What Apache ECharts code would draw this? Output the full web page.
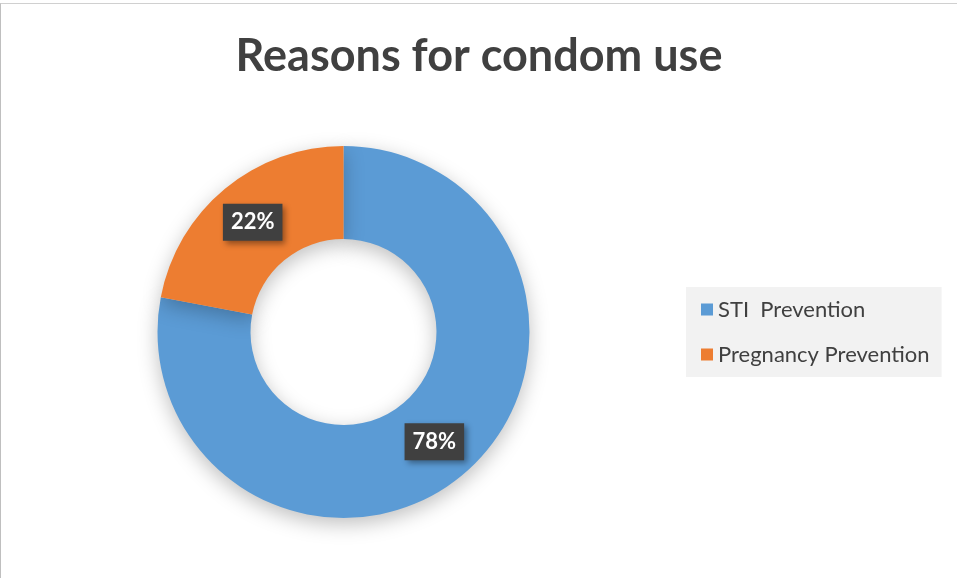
<!DOCTYPE html>
<html><head><meta charset="utf-8">
<script src="https://cdn.jsdelivr.net/npm/echarts@6/dist/echarts.min.js"></script>
<style>html,body{margin:0;padding:0;background:#fff}#c{width:958px;height:578px;position:relative}
#frame{position:absolute;left:0;top:3px;width:956px;height:575px;border-top:1px solid #d0d0d0;border-left:1px solid #bfbfbf;pointer-events:none}</style>
</head><body><div id="c"></div>
<script>
const categories = ['STI  Prevention', 'Pregnancy Prevention'];
const values = [78, 22];
const colors = ['#5b9bd5', '#ed7d31'];
const chart = echarts.init(document.getElementById('c'));
chart.setOption({
  backgroundColor: '#fff',
  title: { text: 'Reasons for condom use', left: 'center', top: 29,
    textStyle: { fontFamily: 'Lato', fontWeight: 'bold', fontSize: 45, color: '#404040' } },
  legend: { orient: 'vertical', left: 686, top: 287, backgroundColor: '#f2f2f2',
    padding: [11, 12, 11, 15], itemGap: 22, itemWidth: 12, itemHeight: 12, icon: 'rect',
    textStyle: { fontFamily: 'Lato', fontSize: 22, color: '#404040', lineHeight: 23 },
    data: categories },
  series: [{
    type: 'pie', center: [343.5, 332], radius: [93, 186], startAngle: 90, clockwise: true,
    silent: true,
    data: categories.map((c, i) => ({ name: c, value: values[i], itemStyle: { color: colors[i] } })),
    itemStyle: { borderColor: '#fff', borderWidth: 0, shadowBlur: 20, shadowColor: 'rgba(0,0,0,0.25)', shadowOffsetY: 6 },
    label: { position: 'inside', formatter: p => p.value + '%', fontFamily: 'Lato', fontWeight: 'bold', fontSize: 22,
      color: '#fff', backgroundColor: '#404040', padding: [8, 8, 7, 8],
      shadowBlur: 6, shadowColor: 'rgba(0,0,0,0.4)', shadowOffsetX: 3, shadowOffsetY: 3 },
    labelLine: { show: false }
  }]
});
</script>
<div id="frame"></div>
</body></html>
